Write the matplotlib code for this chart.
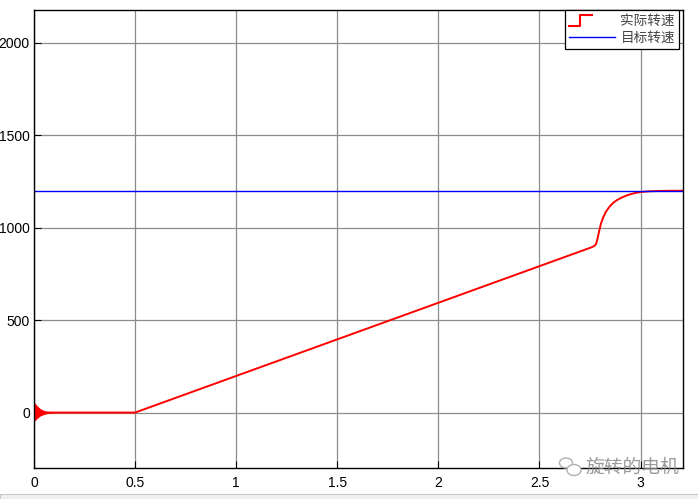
import matplotlib
matplotlib.use("Agg")
import matplotlib.pyplot as plt
from matplotlib.lines import Line2D
from matplotlib.legend_handler import HandlerBase
from matplotlib.patches import Rectangle, Ellipse

plt.rcParams['font.family'] = ['Liberation Sans', 'Noto Sans CJK SC', 'DejaVu Sans']

# 数据：实际转速（折线）
t_actual = [0.0, 0.10, 0.50, 2.760, 2.772, 2.780, 2.786, 2.792, 2.798, 2.805,
            2.815, 2.828, 2.845, 2.865, 2.884, 2.910, 2.940, 2.970, 3.000,
            3.040, 3.09, 3.15, 3.21]
n_actual = [0.0, 0.0, 0.0, 895, 902, 912, 935, 965, 995, 1025,
            1055, 1085, 1112, 1135, 1150, 1165, 1178, 1187, 1193,
            1197, 1199, 1200, 1200]

# 起动振荡包络
t_osc = [0.0, 0.005, 0.01, 0.02, 0.03, 0.045, 0.06, 0.08, 0.10]
osc_hi = [58, 52, 44, 32, 22, 13, 8, 4, 1]
osc_lo = [-48, -44, -38, -28, -19, -12, -7, -3, -1]

# 目标转速
t_target = [0.0, 3.21]
n_target = [1200, 1200]

x_ticks = [0, 0.5, 1, 1.5, 2, 2.5, 3]
x_labels = ["0", "0.5", "1", "1.5", "2", "2.5", "3"]
y_ticks = [0, 500, 1000, 1500, 2000]


class StepHandler(HandlerBase):
    """图例里画台阶形状的红线。"""
    def create_artists(self, legend, orig, xd, yd, w, h, fs, trans):
        xs = [0, w * 0.25, w * 0.25, w * 0.5]
        ys = [-h * 0.05, -h * 0.05, h * 1.05, h * 1.05]
        ln = Line2D(xs, ys, color=orig.get_color(), lw=1.5, transform=trans)
        return [ln]


fig = plt.figure(figsize=(6.98, 4.99), dpi=100)
fig.patch.set_facecolor("white")
ax = fig.add_axes([34 / 698, 1 - 468 / 499, (683 - 34) / 698, (468 - 10) / 499])

ax.fill_between(t_osc, osc_lo, osc_hi, color="red", lw=0)
line_act, = ax.plot(t_actual, n_actual, color="red", lw=1.4)
line_tgt, = ax.plot(t_target, n_target, color="blue", lw=1.0)

ax.set_xlim(0, 3.21)
ax.set_ylim(-300, 2178)
ax.set_xticks(x_ticks)
ax.set_xticklabels(x_labels)
ax.set_yticks(y_ticks)
ax.grid(True, color="#8c8c8c", lw=0.9)
ax.set_axisbelow(True)
ax.tick_params(direction="in", length=5, labelsize=10, colors="black")
ax.tick_params(axis="y", pad=3)
ax.tick_params(axis="x", pad=6)
for sp in ax.spines.values():
    sp.set_linewidth(1.0)

leg = ax.legend([line_act, line_tgt], ["实际转速", "目标转速"],
                handler_map={line_act: StepHandler()},
                loc="upper right", bbox_to_anchor=(1 - 4 / 649, 1.0),
                fontsize=9.8, handlelength=3.4, frameon=True, fancybox=False,
                edgecolor="black", borderpad=0.3, labelspacing=0.2,
                handletextpad=0.4, borderaxespad=0.0, framealpha=1)
leg.get_frame().set_linewidth(0.9)
for txt in leg.get_texts():
    txt.set_family(['Noto Sans CJK SC', 'DejaVu Sans'])
    txt.set_color("#444444")

# 底部灰色状态栏
fig.patches.append(Rectangle((0, 0), 1, 5 / 499, transform=fig.transFigure,
                             facecolor="#f0f0f0", edgecolor="#c8c8c8", lw=0.8))

# 水印
fig.text(632 / 698, 1 - 467 / 499, "旋转的电机", ha="center", va="center",
         fontsize=13.5, color="#8a8a8a", alpha=0.85,
         family=['Noto Sans CJK SC', 'DejaVu Sans'])
fig.patches.append(Ellipse((566 / 698, 1 - 463 / 499), 13 / 698, 10 / 499,
                           transform=fig.transFigure, fill=False,
                           edgecolor="#b0b0b0", lw=1.0))
fig.patches.append(Ellipse((574 / 698, 1 - 470 / 499), 14 / 698, 11 / 499,
                           transform=fig.transFigure, facecolor="white",
                           edgecolor="#b0b0b0", lw=1.0))

fig.savefig("out.png", dpi=100)
